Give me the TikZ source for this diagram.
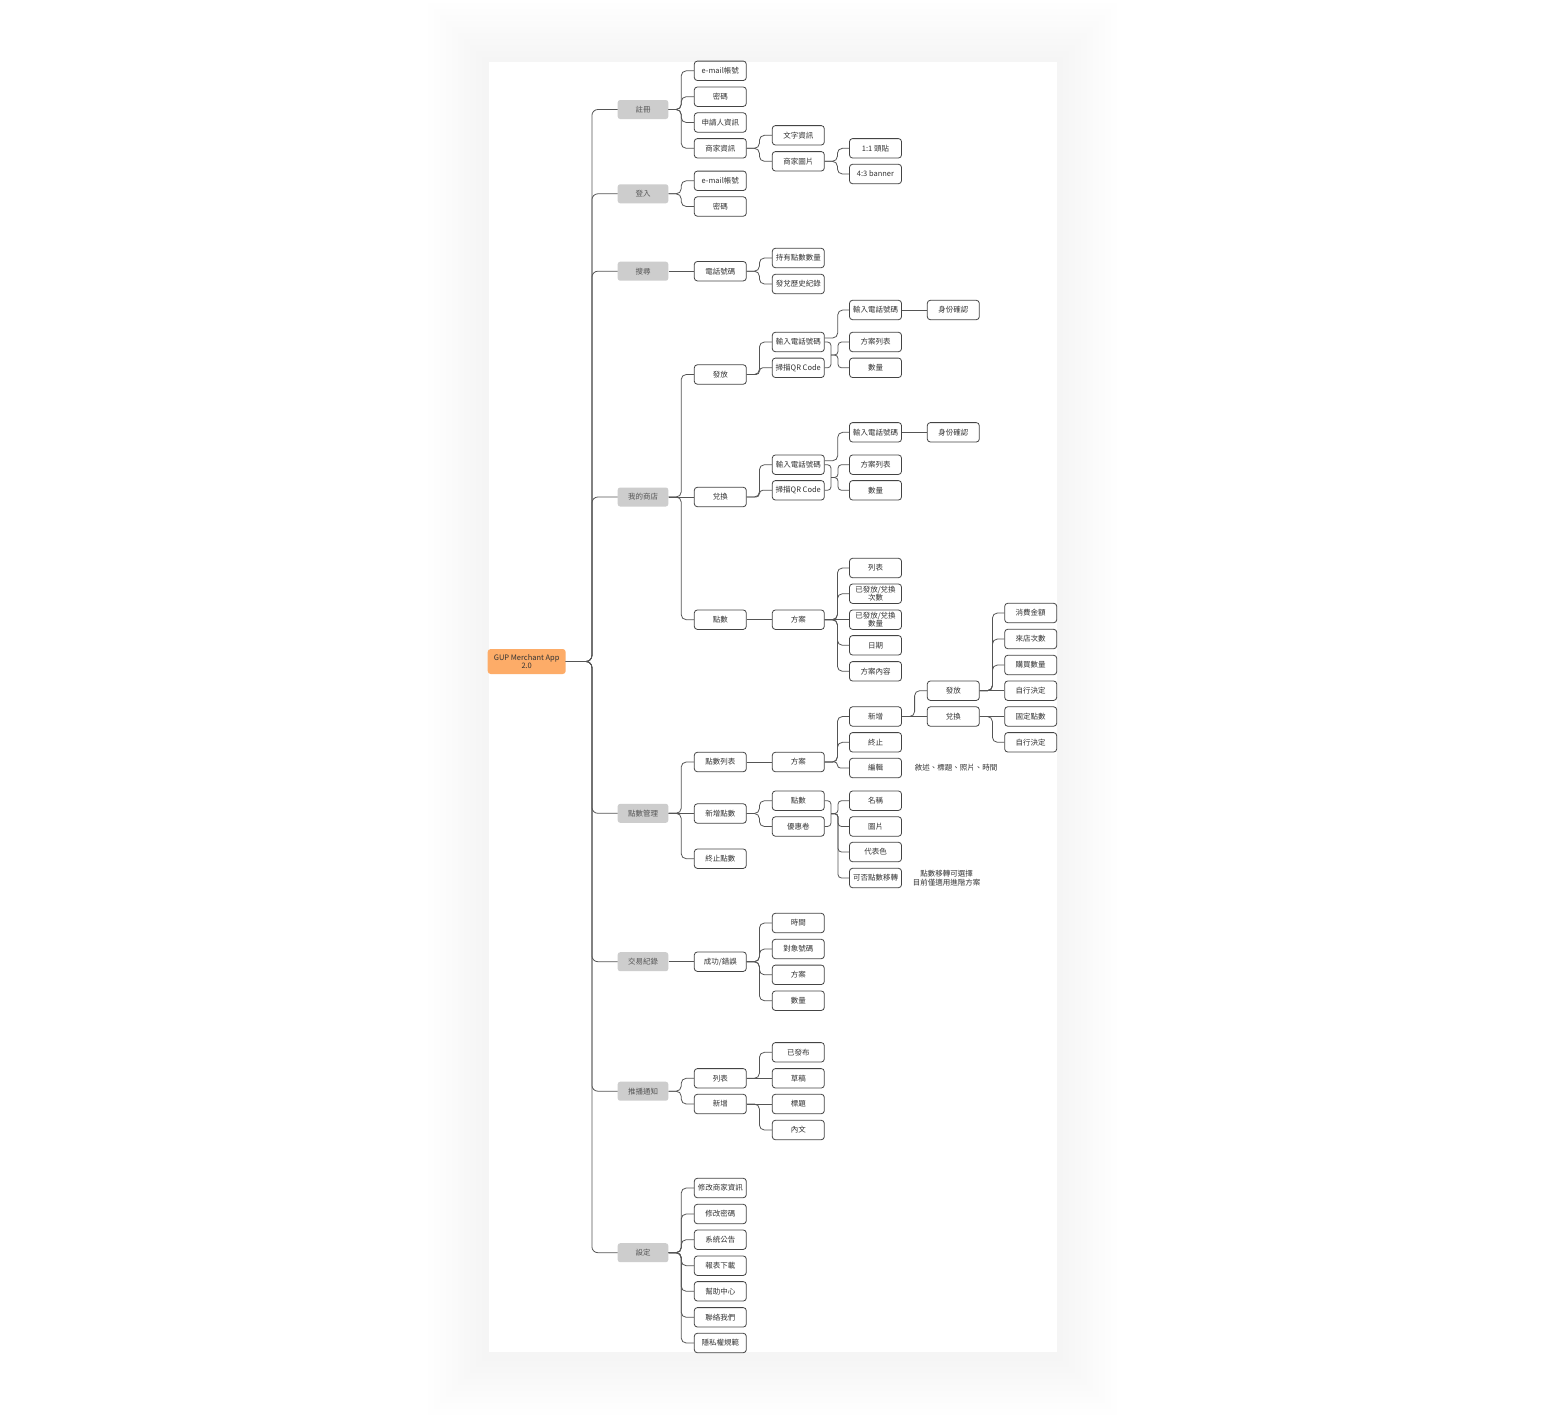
\documentclass[tikz,border=0pt]{standalone}
\usepackage{fontspec}
\setmainfont{Noto Sans CJK TC}
\usetikzlibrary{calc}
\definecolor{linec}{HTML}{555555}
\definecolor{boxc}{HTML}{444444}
\definecolor{textc}{HTML}{333333}
\definecolor{grayc}{HTML}{CDCDCD}
\definecolor{gtext}{HTML}{555555}
\definecolor{orangec}{HTML}{FDAC68}
% radius of a connector bend, limited by the vertical distance
\newcommand\mmrad[3]{%
  \path let \p1=(#1), \p2=(#2) in
    \pgfextra{\pgfmathsetmacro\mmr{min(#3,abs(\y2-\y1)/2)}\global\let\mmrr\mmr};}
\newcommand\mmlink[2]{%
  \mmrad{#1.east}{#2.west}{5}%
  \draw[conn, rounded corners=\mmrr pt] (#1.east) -- ++(12.7,0) |- (#2.west);}
\newcommand\mmjoin[2]{%
  \mmrad{#1}{#2.west}{3.5}%
  \draw[conn, rounded corners=\mmrr pt] (#1) -- ++(7,0) |- (#2.west);}
\newcommand\mminto[2]{%
  \mmrad{#1.east}{#2}{3.5}%
  \draw[conn, rounded corners=\mmrr pt] (#1.east) -| (#2);}
\newcommand\mmtrunk[1]{\draw[conn,rounded corners=6pt] (root.east) -- ++(26,0) |- (#1.west);}
\begin{document}
\begin{tikzpicture}[x=1pt,y=-1pt,
  box/.style={draw=boxc, line width=0.8pt, rounded corners=3pt, fill=white,
    minimum width=52pt, minimum height=19.4pt, inner sep=0pt,
    font=\fontsize{7.5}{8.3}\selectfont, text=textc, align=center},
  gbox/.style={fill=grayc, rounded corners=2.5pt, minimum width=50.6pt,
    minimum height=19pt, inner sep=0pt, font=\fontsize{7.5}{8.5}\selectfont, text=gtext},
  rootbox/.style={fill=orangec, rounded corners=3pt, minimum width=78pt,
    minimum height=25pt, inner sep=0pt, font=\fontsize{7.5}{8.5}\selectfont,
    text=textc, align=center},
  note/.style={inner sep=0pt, font=\fontsize{7.5}{9}\selectfont, text=textc, align=center},
  conn/.style={draw=linec, line width=0.8pt},
]
\useasboundingbox (0,0) rectangle (1547,1416);
% shadow and card
\foreach \i in {1,...,10}{
  \fill[black, opacity=0.0042] ({488-\i*6},{61-\i*6+2}) rectangle ({1057+\i*6},{1352+\i*6+3});
}
\fill[white, draw=black!4] (488,61) rectangle (1057,1352);

% root
\node[rootbox] (root) at (526.7,661.5) {GUP Merchant App\\2.0};

% level 1
\node[gbox] (reg)    at (643,109.5) {註冊};
\node[gbox] (login)  at (643,193.8) {登入};
\node[gbox] (search) at (643,271.2) {搜尋};
\node[gbox] (shop)   at (643,497)   {我的商店};
\node[gbox] (pm)     at (643,813.3) {點數管理};
\node[gbox] (tx)     at (643,961.7) {交易紀錄};
\node[gbox] (push)   at (643,1091.2){推播通知};
\node[gbox] (set)    at (643,1252.7){設定};
\foreach \nd in {reg,login,search,shop,pm,tx,push,set}{\mmtrunk{\nd}}

% 註冊
\node[box] (r1) at (720.3,70.8)  {e-mail帳號};
\node[box] (r2) at (720.3,96.7)  {密碼};
\node[box] (r3) at (720.3,122.5) {申請人資訊};
\node[box] (r4) at (720.3,148.3) {商家資訊};
\mmlink{reg}{r1}\mmlink{reg}{r2}\mmlink{reg}{r3}\mmlink{reg}{r4}
\node[box] (r41) at (798.3,135.3) {文字資訊};
\node[box] (r42) at (798.3,161.3) {商家圖片};
\mmlink{r4}{r41}\mmlink{r4}{r42}
\node[box] (r421) at (875.5,148.3) {1:1 頭貼};
\node[box] (r422) at (875.5,174)   {4:3 banner};
\mmlink{r42}{r421}\mmlink{r42}{r422}

% 登入
\node[box] (l1) at (720.3,180.8) {e-mail帳號};
\node[box] (l2) at (720.3,206.5) {密碼};
\mmlink{login}{l1}\mmlink{login}{l2}

% 搜尋
\node[box] (s1) at (720.3,271.2) {電話號碼};
\draw[conn] (search) -- (s1);
\node[box] (s11) at (798.3,258) {持有點數數量};
\node[box] (s12) at (798.3,284) {發兌歷史紀錄};
\mmlink{s1}{s11}\mmlink{s1}{s12}

% 我的商店
\node[box] (sh1) at (720.3,374.5) {發放};
\node[box] (sh2) at (720.3,497)   {兌換};
\node[box] (sh3) at (720.3,619.7) {點數};
\mmlink{shop}{sh1}\mmlink{shop}{sh3}
\draw[conn] (shop) -- (sh2);

% 發放
\node[box] (a1) at (798.3,342)   {輸入電話號碼};
\node[box] (a2) at (798.3,367.8) {掃描QR Code};
\mmlink{sh1}{a1}\mmlink{sh1}{a2}
\node[box] (a11)  at (875.5,310) {輸入電話號碼};
\node[box] (a111) at (953.3,310) {身份確認};
\draw[conn, rounded corners=5pt] ($(a1.east)+(0,-4)$) -- ++(13,0) |- (a11.west);
\draw[conn] (a11) -- (a111);
\node[box] (a3) at (875.5,342)   {方案列表};
\node[box] (a4) at (875.5,367.8) {數量};
\coordinate (J1) at (831,355);
\mminto{a1}{J1}\mminto{a2}{J1}
\mmjoin{J1}{a3}\mmjoin{J1}{a4}

% 兌換
\node[box] (b1) at (798.3,464.7) {輸入電話號碼};
\node[box] (b2) at (798.3,490.3) {掃描QR Code};
\mmlink{sh2}{b1}\mmlink{sh2}{b2}
\node[box] (b11)  at (875.5,432.3) {輸入電話號碼};
\node[box] (b111) at (953.3,432.3) {身份確認};
\draw[conn, rounded corners=5pt] ($(b1.east)+(0,-4)$) -- ++(13,0) |- (b11.west);
\draw[conn] (b11) -- (b111);
\node[box] (b3) at (875.5,464.7) {方案列表};
\node[box] (b4) at (875.5,490.3) {數量};
\coordinate (J2) at (831,477.5);
\mminto{b1}{J2}\mminto{b2}{J2}
\mmjoin{J2}{b3}\mmjoin{J2}{b4}

% 點數
\node[box] (c1) at (798.3,619.7) {方案};
\draw[conn] (sh3) -- (c1);
\node[box] (c11) at (875.5,568)   {列表};
\node[box] (c12) at (875.5,593.7) {已發放/兌換\\次數};
\node[box] (c13) at (875.5,619.7) {已發放/兌換\\數量};
\node[box] (c14) at (875.5,645.3) {日期};
\node[box] (c15) at (875.5,671.3) {方案內容};
\mmlink{c1}{c11}\mmlink{c1}{c12}\mmlink{c1}{c14}\mmlink{c1}{c15}
\draw[conn] (c1) -- (c13);

% 點數管理
\node[box] (p1) at (720.3,762)   {點數列表};
\node[box] (p2) at (720.3,813.5) {新增點數};
\node[box] (p3) at (720.3,858.7) {終止點數};
\mmlink{pm}{p1}\mmlink{pm}{p3}
\draw[conn] (pm) -- (p2);
\node[box] (p11) at (798.3,762) {方案};
\draw[conn] (p1) -- (p11);
\node[box] (p111) at (875.5,716.5) {新增};
\node[box] (p112) at (875.5,742.3) {終止};
\node[box] (p113) at (875.5,768)   {編輯};
\mmlink{p11}{p111}\mmlink{p11}{p112}\mmlink{p11}{p113}
\node[note] (note1) at (956,768) {敘述、標題、照片、時間};
\node[box] (q1) at (953.3,690.7) {發放};
\node[box] (q2) at (953.3,716.5) {兌換};
\mmlink{p111}{q1}
\draw[conn] (p111) -- (q2);
\node[box] (q11) at (1030.7,613)   {消費金額};
\node[box] (q12) at (1030.7,639)   {來店次數};
\node[box] (q13) at (1030.7,665)   {購買數量};
\node[box] (q14) at (1030.7,690.7) {自行決定};
\mmlink{q1}{q11}\mmlink{q1}{q12}\mmlink{q1}{q13}
\draw[conn] (q1) -- (q14);
\node[box] (q21) at (1030.7,716.5) {固定點數};
\node[box] (q22) at (1030.7,742.3) {自行決定};
\draw[conn] (q2) -- (q21);
\mmlink{q2}{q22}

\node[box] (p21) at (798.3,800.7) {點數};
\node[box] (p22) at (798.3,826.5) {優惠卷};
\mmlink{p2}{p21}\mmlink{p2}{p22}
\coordinate (J3) at (831,813.6);
\mminto{p21}{J3}\mminto{p22}{J3}
\node[box] (p23) at (875.5,800.7) {名稱};
\node[box] (p24) at (875.5,826.5) {圖片};
\node[box] (p25) at (875.5,852)   {代表色};
\node[box] (p26) at (875.5,878)   {可否點數移轉};
\mmjoin{J3}{p23}\mmjoin{J3}{p24}\mmjoin{J3}{p25}\mmjoin{J3}{p26}
\node[note] (note2) at (946.7,878) {點數移轉可選擇\\目前僅適用進階方案};

% 交易紀錄
\node[box] (t1) at (720.3,961.7) {成功/錯誤};
\draw[conn] (tx) -- (t1);
\node[box] (t11) at (798.3,923)    {時間};
\node[box] (t12) at (798.3,949)    {對象號碼};
\node[box] (t13) at (798.3,974.8)  {方案};
\node[box] (t14) at (798.3,1000.7) {數量};
\mmlink{t1}{t11}\mmlink{t1}{t12}\mmlink{t1}{t13}\mmlink{t1}{t14}

% 推播通知
\node[box] (u1) at (720.3,1078.3) {列表};
\node[box] (u2) at (720.3,1104)   {新增};
\mmlink{push}{u1}\mmlink{push}{u2}
\node[box] (u11) at (798.3,1052.3) {已發布};
\node[box] (u12) at (798.3,1078.3) {草稿};
\mmlink{u1}{u11}
\draw[conn] (u1) -- (u12);
\node[box] (u21) at (798.3,1104) {標題};
\node[box] (u22) at (798.3,1130) {內文};
\draw[conn] (u2) -- (u21);
\mmlink{u2}{u22}

% 設定
\node[box] (e1) at (720.3,1188)   {修改商家資訊};
\node[box] (e2) at (720.3,1214)   {修改密碼};
\node[box] (e3) at (720.3,1239.7) {系統公告};
\node[box] (e4) at (720.3,1265.7) {報表下載};
\node[box] (e5) at (720.3,1291.3) {幫助中心};
\node[box] (e6) at (720.3,1317.3) {聯絡我們};
\node[box] (e7) at (720.3,1343)   {隱私權規範};
\mmlink{set}{e1}\mmlink{set}{e2}\mmlink{set}{e3}\mmlink{set}{e4}
\mmlink{set}{e5}\mmlink{set}{e6}\mmlink{set}{e7}
\end{tikzpicture}
\end{document}
